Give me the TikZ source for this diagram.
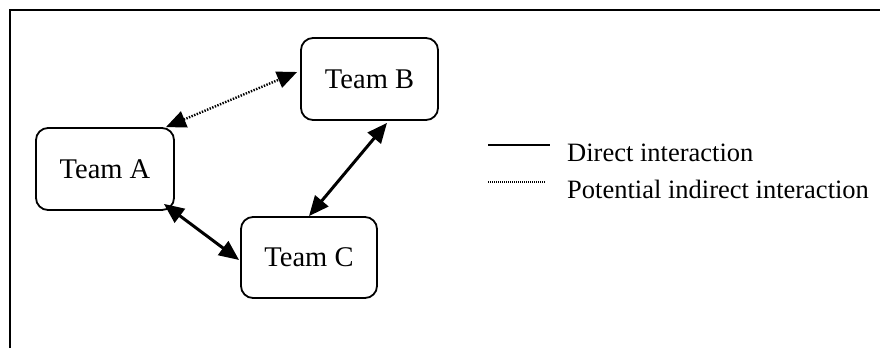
\documentclass[tikz,border=0pt]{standalone}
\usepackage{fontspec}
\setmainfont{Liberation Serif}
\usetikzlibrary{arrows.meta,calc}
\begin{document}
\begin{tikzpicture}[x=1pt,y=-1pt,
  team/.style={draw,line width=1.8pt,rounded corners=12pt,inner sep=0pt,
    font=\fontsize{28.5}{34}\selectfont},
  twoway/.style={{Triangle[length=20pt,width=17pt]}-{Triangle[length=20pt,width=17pt]}},
  direct/.style={twoway,line width=3pt},
  indirect/.style={twoway,line width=2.4pt,dash pattern=on 1.4pt off 1.4pt},
  legendtext/.style={anchor=base west,inner sep=0pt,font=\fontsize{26.5}{32}\selectfont}]
  \useasboundingbox (0,0) rectangle (880,348);
  % outer frame (top and left edges)
  \draw[line width=2.8pt] (10,348) -- (10,10) -- (880,10);

  % team boxes
  \node[team,minimum width=138pt,minimum height=82pt] (A) at (105,169) {Team A};
  \node[team,minimum width=137pt,minimum height=82pt] (B) at (369.5,79) {Team B};
  \node[team,minimum width=136pt,minimum height=81pt] (C) at (309,257.5) {Team C};

  % interactions
  \draw[indirect] ($(A.north east)+(-9,0)$) -- ($(B.west)+(-3,-7)$);
  \draw[direct] ($(A.south east)+(-11,-7)$) -- ($(C.west)+(-1,2.5)$);
  \draw[direct] ($(B.south)+(17.5,2)$) -- (C.north);

  % legend
  \coordinate (l1a) at (488,145);
  \coordinate (l1b) at (550,145);
  \coordinate (l2a) at (488,182);
  \coordinate (l2b) at (545,182);
  \draw[line width=2pt] (l1a) -- (l1b);
  \draw[line width=1.2pt,dash pattern=on 0.8pt off 1.2pt] (l2a) -- (l2b);
  \node[legendtext] (d) at (567,161.7) {Direct interaction};
  \node[legendtext] (p) at (567,198) {Potential indirect interaction};
\end{tikzpicture}
\end{document}
